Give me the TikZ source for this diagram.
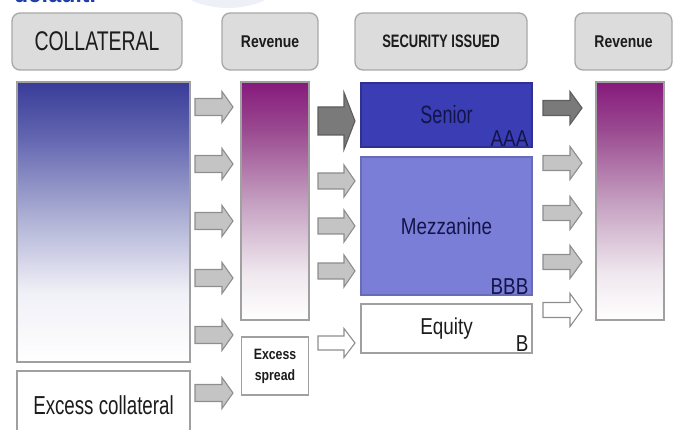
\documentclass[tikz,border=0pt]{standalone}
\usepackage{fontspec}
\setmainfont{Liberation Sans}
\newfontfamily\cfa[FakeStretch=0.72]{Liberation Sans}
\newfontfamily\cfb[FakeStretch=0.82]{Liberation Sans}
\definecolor{hdrfill}{HTML}{DCDCDC}
\definecolor{hdrline}{HTML}{A8A8A8}
\definecolor{boxline}{HTML}{A0A0A0}
\definecolor{collB}{HTML}{F0F0F7}
\definecolor{collC}{HTML}{B2B4D7}
\definecolor{collD}{HTML}{6366B0}
\definecolor{collE}{HTML}{383C98}
\definecolor{revB}{HTML}{EFE7EE}
\definecolor{revC}{HTML}{C49EC0}
\definecolor{revD}{HTML}{9A4A90}
\definecolor{revE}{HTML}{861A7C}
\definecolor{seniorfill}{HTML}{3B3DB5}
\definecolor{mezzfill}{HTML}{7B7ED6}
\definecolor{navytext}{HTML}{12144A}
\definecolor{darktext}{HTML}{1C1C1C}
\definecolor{arrfill}{HTML}{C4C4C4}
\definecolor{arrline}{HTML}{8E8E8E}
\definecolor{darkarr}{HTML}{7A7A7A}
\definecolor{darkarrline}{HTML}{5E5E5E}
\definecolor{topblue}{HTML}{1F3FA8}
\definecolor{wmark}{HTML}{EEF0F8}
\pgfdeclareverticalshading{collshade}{100bp}{color(0bp)=(white); color(25bp)=(white); color(37.5bp)=(collB); color(50bp)=(collC); color(65bp)=(collD); color(75bp)=(collE); color(100bp)=(collE)}
\pgfdeclareverticalshading{revshade}{100bp}{color(0bp)=(white); color(25bp)=(white); color(35bp)=(revB); color(50bp)=(revC); color(65bp)=(revD); color(75bp)=(revE); color(100bp)=(revE)}
\newcommand{\barrow}[7]{\draw[#7] (#1,{#2-#4/2}) -- ({#1+#3-#6},{#2-#4/2}) -- ({#1+#3-#6},{#2-#5/2}) -- ({#1+#3},#2) -- ({#1+#3-#6},{#2+#5/2}) -- ({#1+#3-#6},{#2+#4/2}) -- (#1,{#2+#4/2}) -- cycle;}
\tikzset{
  hdr/.style={draw=hdrline, fill=hdrfill, line width=1.3pt, rounded corners=8pt, text=darktext, inner sep=0pt},
  colbox/.style={draw=boxline, line width=1.2pt, inner sep=0pt},
  larr/.style={fill=arrfill, draw=arrline, line width=1.1pt, line join=miter},
  darr/.style={fill=darkarr, draw=darkarrline, line width=1.1pt, line join=miter},
  warr/.style={fill=white, draw=arrline, line width=1.1pt, line join=miter},
  rating/.style={anchor=south east, inner sep=0pt, text=navytext, font=\cfb\fontsize{23}{25}\selectfont}
}
\begin{document}
\begin{tikzpicture}[x=1pt,y=-1pt]
\useasboundingbox (0,0) rectangle (675,430);
\fill[wmark] (228,-84) circle (92);
\node[anchor=base west, inner sep=0pt, text=topblue, font=\bfseries\fontsize{23}{26}\selectfont] (toptext) at (14,3) {default.};
% headers
\node[hdr, minimum width=170pt, minimum height=57pt, font=\cfa\fontsize{27}{30}\selectfont] (hcoll) at (97,41.5) {COLLATERAL};
\node[hdr, minimum width=96pt, minimum height=57pt, font=\cfb\bfseries\fontsize{17}{19}\selectfont] (hrev1) at (270,41.5) {Revenue};
\node[hdr, minimum width=172pt, minimum height=57pt, font=\cfa\bfseries\fontsize{18}{20}\selectfont] (hsec) at (441,41.5) {SECURITY ISSUED};
\node[hdr, minimum width=97pt, minimum height=57pt, font=\cfb\bfseries\fontsize{17}{19}\selectfont] (hrev2) at (623.5,41.5) {Revenue};
% collateral column
\node[colbox, shading=collshade, minimum width=173pt, minimum height=280pt] (coll) at (103.5,222) {};
\node[colbox, fill=white, minimum width=173pt, minimum height=69pt, text=darktext, font=\cfa\fontsize{26}{28}\selectfont] (excoll) at (103.5,405.5) {Excess collateral};
% revenue column 1
\node[colbox, shading=revshade, minimum width=68pt, minimum height=238pt] (rev1) at (275,201) {};
\node[colbox, fill=white, minimum width=67pt, minimum height=58pt, align=center, text=darktext, font=\cfb\bfseries\fontsize{15}{21}\selectfont] (exspread) at (275,366) {Excess\\spread};
% securities
\node[colbox, draw=seniorfill!80!black, fill=seniorfill, minimum width=171pt, minimum height=64pt, text=navytext, font=\cfa\fontsize{25}{27}\selectfont] (senior) at (446.5,115) {\raisebox{2pt}{Senior}};
\node[rating, xshift=-4pt, yshift=1pt] (aaa) at (senior.south east) {AAA};
\node[colbox, draw=mezzfill!85!black, fill=mezzfill, minimum width=171pt, minimum height=138pt, text=navytext, font=\cfb\fontsize{23}{25}\selectfont] (mezz) at (446.5,226) {Mezzanine};
\node[rating, xshift=-4pt, yshift=1pt] (bbb) at (mezz.south east) {BBB};
\node[colbox, fill=white, minimum width=171pt, minimum height=49pt, text=darktext, font=\cfb\fontsize{23}{25}\selectfont] (equity) at (446.5,328.5) {Equity};
\node[rating, text=darktext, xshift=-4pt, yshift=2pt] (brate) at (equity.south east) {B};
% revenue column 2
\node[colbox, shading=revshade, minimum width=68pt, minimum height=238pt] (rev2) at (630,201) {};
% arrows column 1
\foreach \yy in {107,164,221,278,335,393} {\barrow{195}{\yy}{38}{17}{31}{11}{larr}}
% arrows column 2
\barrow{318}{121}{37}{28}{57}{11}{darr}
\foreach \yy in {181,226,271} {\barrow{318}{\yy}{37}{16}{32}{11}{larr}}
\barrow{318}{343}{37}{14}{29}{11}{warr}
% arrows column 3
\barrow{543}{108}{39}{15}{33}{12}{darr}
\foreach \yy in {163,213,262} {\barrow{543}{\yy}{39}{15}{33}{12}{larr}}
\barrow{543}{310}{39}{15}{33}{12}{warr}
\end{tikzpicture}
\end{document}
